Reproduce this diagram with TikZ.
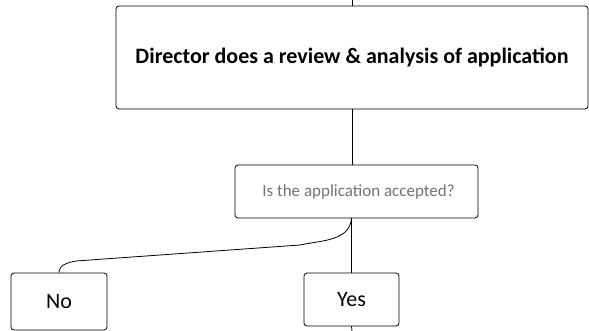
\documentclass[tikz,border=0pt]{standalone}
\usepackage{fontspec}
\setmainfont{Carlito}
\tikzset{box/.style={draw,rounded corners=3pt,line width=0.8pt,align=center,inner sep=0pt}}
\begin{document}
\begin{tikzpicture}[x=1pt,y=-1pt,line width=0.8pt]
\useasboundingbox(0,0)rectangle(589,331);
\clip(0,0)rectangle(589,331);
\node[box,minimum width=472,minimum height=103,font=\bfseries\fontsize{22}{24}\selectfont](review)at(352,57.5){\raisebox{-4pt}{Director does a review \& analysis of application}};
\node[box,minimum width=243,minimum height=53,text=black!55,font=\fontsize{17}{19}\selectfont](question)at(356.5,191.5){\hspace{4pt}Is the application accepted?};
\node[box,minimum width=96,minimum height=57,font=\fontsize{22}{24}\selectfont](no)at(59,301.5){No};
\node[box,minimum width=95,minimum height=53,font=\fontsize{22}{24}\selectfont](yes)at(351.5,299.5){\raisebox{-2pt}{Yes}};
\coordinate(top)at(352,0);
\coordinate(bottom)at(352,331);
\draw(top)--(review.north);
\draw(review.south)--(review.south|-question.north);
\draw(yes.north|-question.south)--(yes.north);
\draw(yes.north|-question.south)to[out=-95,in=12](300,245)--(76,261)to[out=192,in=90](no.north);
\draw(yes.south)--(bottom);
\end{tikzpicture}
\end{document}
